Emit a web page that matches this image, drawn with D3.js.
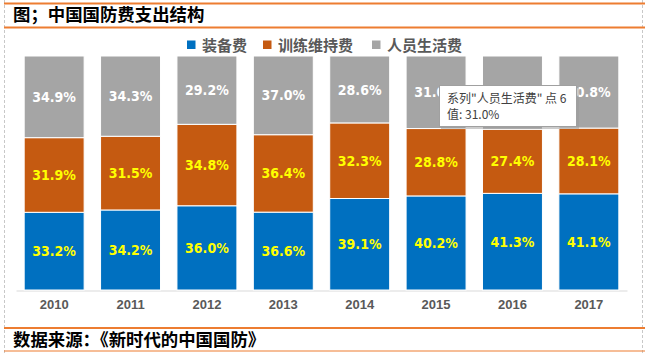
<!DOCTYPE html>
<html><head><meta charset="utf-8">
<script src="https://cdn.jsdelivr.net/npm/d3@7/dist/d3.min.js"></script>
<style>body{margin:0;background:#fff}svg{display:block}</style>
</head><body><svg id="c" width="646" height="354"></svg>
<script>
const years = ["2010","2011","2012","2013","2014","2015","2016","2017"];
const seriesNames = ["装备费","训练维持费","人员生活费"];
const equipment = [33.2,34.2,36.0,36.6,39.1,40.2,41.3,41.1];
const training  = [31.9,31.5,34.8,36.4,32.3,28.8,27.4,28.1];
const personnel = [34.9,34.3,29.2,37.0,28.6,31.0,31.3,30.8];
const colors = ["#0070C0","#C55A11","#A5A5A5"];
const labelColors = ["#FFFF00","#FFFF00","#FFFFFF"];
const titleText = "图；中国国防费支出结构";
const sourceText = "数据来源：《新时代的中国国防》";
const tipLine1 = "系列\"人员生活费\" 点 6";
const tipLine2 = "值: 31.0%";

const svg = d3.select("#c");
const W = 646, H = 354;
const CJK = "'Noto Sans CJK SC','Noto Sans',sans-serif";

// frame
svg.append("line").attr("x1",4.5).attr("x2",4.5).attr("y1",0).attr("y2",H)
  .attr("stroke","#c8c8c8").attr("stroke-dasharray","3,2");
svg.append("line").attr("x1",642.5).attr("x2",642.5).attr("y1",0).attr("y2",H)
  .attr("stroke","#c8c8c8").attr("stroke-dasharray","3,2");
[[3.5,2],[27.5,2],[328,2],[351,1.2]].forEach(([y,w])=>{
  svg.append("line").attr("x1",4).attr("x2",645).attr("y1",y).attr("y2",y)
    .attr("stroke","#ED7D31").attr("stroke-width",w);
});
svg.append("text").attr("x",13).attr("y",21).text(titleText)
  .attr("font-family",CJK).attr("font-weight",700).attr("font-size",17.4).attr("fill","#000");
svg.append("text").attr("x",13).attr("y",346).text(sourceText)
  .attr("font-family",CJK).attr("font-weight",700).attr("font-size",17.4).attr("fill","#000");

// scales
const x = d3.scaleBand().domain(years).range([16,627]).paddingInner(0.215).paddingOuter(0.107);
const y = d3.scaleLinear().domain([0,1]).range([290,56]);

const rows = years.map((yr,i)=>({year:yr, v:[equipment[i],training[i],personnel[i]]}));
rows.forEach(r=>{
  const tot = d3.sum(r.v);
  let acc = 0;
  r.segs = r.v.map((val,k)=>{const s={k, val, y0:acc/tot, y1:(acc+val)/tot}; acc+=val; return s;});
});

// axis
const xAxis = d3.axisBottom(x).tickSize(0).tickPadding(9);
const gx = svg.append("g").attr("transform","translate(0,290.5)").call(xAxis);
gx.select(".domain").attr("stroke","#d9d9d9").attr("stroke-width",1.2);
gx.selectAll("text").attr("font-family","'Liberation Sans',Arial,sans-serif")
  .attr("font-weight",700).attr("font-size",13).attr("fill","#595959");

// bars
const gBars = svg.append("g");
rows.forEach(r=>{
  r.segs.forEach(s=>{
    gBars.append("rect").attr("x",x(r.year)).attr("width",x.bandwidth())
      .attr("y",y(s.y1)).attr("height",y(s.y0)-y(s.y1))
      .attr("fill",colors[s.k]).attr("stroke","#fff").attr("stroke-width",1);
  });
});
rows.forEach(r=>{
  r.segs.forEach(s=>{
    gBars.append("text").attr("x",x(r.year)+x.bandwidth()/2)
      .attr("y",(y(s.y0)+y(s.y1))/2).attr("dy","0.36em")
      .attr("text-anchor","middle").text(s.val.toFixed(1)+"%")
      .attr("font-family","'DejaVu Sans Condensed','DejaVu Sans',sans-serif")
      .attr("font-weight",700).attr("font-size",14).attr("fill",labelColors[s.k]);
  });
});

// legend
const legX = [187,263,372];
seriesNames.forEach((n,i)=>{
  svg.append("rect").attr("x",legX[i]).attr("y",40.5).attr("width",8.5).attr("height",8.5).attr("fill",colors[i]);
  svg.append("text").attr("x",legX[i]+15).attr("y",50.5).text(n)
    .attr("font-family",CJK).attr("font-weight",700).attr("font-size",15).attr("fill","#595959");
});

// tooltip
const tip = svg.append("g").attr("transform","translate(439,85)");
tip.append("rect").attr("x",2).attr("y",2).attr("width",138).attr("height",42).attr("fill","#9a9a9a").attr("opacity",0.5);
tip.append("rect").attr("x",0.5).attr("y",0.5).attr("width",137).attr("height",41)
  .attr("fill","#fff").attr("stroke","#a0a0a0");
tip.append("text").attr("x",8).attr("y",18).text(tipLine1)
  .attr("font-family",CJK).attr("font-size",12).attr("fill","#404040");
tip.append("text").attr("x",8).attr("y",34).text(tipLine2)
  .attr("font-family",CJK).attr("font-size",12).attr("fill","#404040");
</script></body></html>
